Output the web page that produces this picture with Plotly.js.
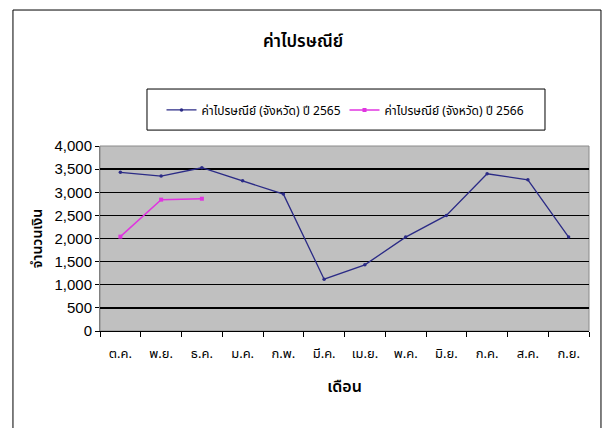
<!DOCTYPE html>
<html>
<head>
<meta charset="utf-8">
<script src="https://cdn.plot.ly/plotly-3.0.1.min.js"></script>
<style>
  html, body { margin: 0; padding: 0; background: #ffffff; }
  #chart { width: 606px; height: 428px; }
</style>
</head>
<body>
<div id="chart"></div>
<script>
const months = ["ต.ค.", "พ.ย.", "ธ.ค.", "ม.ค.", "ก.พ.", "มี.ค.", "เม.ย.", "พ.ค.", "มิ.ย.", "ก.ค.", "ส.ค.", "ก.ย."];
const months2566 = ["ต.ค.", "พ.ย.", "ธ.ค."];
const values2565 = [3430, 3350, 3530, 3250, 2960, 1120, 1430, 2030, 2500, 3400, 3270, 2030];
const values2566 = [2040, 2840, 2860];
const seriesNames = ["ค่าไปรษณีย์ (จังหวัด) ปี 2565", "ค่าไปรษณีย์ (จังหวัด) ปี 2566"];
const yTicks = [0, 500, 1000, 1500, 2000, 2500, 3000, 3500, 4000];

const thaiFont = '"Noto Sans Thai", "Noto Sans", "DejaVu Sans", sans-serif';
const numFont = '"Liberation Sans", Arial, sans-serif';

const traces = [
  {
    x: months, y: values2565, name: seriesNames[0], type: "scatter", mode: "lines+markers",
    line: { color: "#2B2B86", width: 1.3 },
    marker: { color: "#2B2B86", size: 3.5, symbol: "circle" }
  },
  {
    x: months2566, y: values2566, name: seriesNames[1], type: "scatter", mode: "lines+markers",
    line: { color: "#E035E0", width: 1.5 },
    marker: { color: "#E035E0", size: 4, symbol: "square" }
  }
];

const layout = {
  width: 606, height: 428,
  margin: { l: 100, r: 17, t: 146, b: 97 },
  paper_bgcolor: "#ffffff",
  plot_bgcolor: "#C0C0C0",
  font: { family: thaiFont, color: "#000000", size: 13 },
  title: { text: "ค่าไปรษณีย์", x: 0.5, xanchor: "center", y: 0.905, yanchor: "middle", font: { size: 17, family: thaiFont, weight: 600 } },
  showlegend: true,
  legend: {
    orientation: "h", x: 0.5, xanchor: "center", y: 1.195, yanchor: "middle",
    bgcolor: "rgba(0,0,0,0)", borderwidth: 0, font: { size: 12, family: thaiFont },
    entrywidth: 138, itemwidth: 30
  },
  xaxis: {
    type: "category", categoryorder: "array", categoryarray: months,
    range: [-0.5, 11.5],
    tickson: "boundaries", ticks: "outside", ticklen: 5, tickcolor: "#000", tickwidth: 1,
    ticklabelstandoff: 10,
    showline: true, linecolor: "#000", linewidth: 1, showgrid: false, zeroline: false,
    tickfont: { size: 13, family: thaiFont },
    title: { text: "เดือน", font: { size: 16, family: thaiFont, weight: 600 }, standoff: 18 }
  },
  yaxis: {
    range: [0, 4000], tickvals: yTicks, tickformat: ",",
    ticks: "outside", ticklen: 4, tickcolor: "#000",
    showline: true, linecolor: "#808080", linewidth: 1,
    showgrid: true, gridcolor: "#000000", gridwidth: 1.3, zeroline: false,
    tickfont: { size: 15, family: numFont },
    title: { text: "จำนวนเงิน", font: { size: 14, family: thaiFont, weight: 600 }, standoff: 8 }
  },
  shapes: [
    { type: "rect", xref: "paper", yref: "paper", x0: -0.178, x1: 1.0245, y0: -0.6, y1: 1.735,
      line: { color: "#000", width: 1 }, fillcolor: "rgba(0,0,0,0)", layer: "below" },
    { type: "rect", xref: "paper", yref: "paper", x0: 0.0961, x1: 0.910, y0: 1.086, y1: 1.308,
      line: { color: "#000", width: 1 }, fillcolor: "rgba(0,0,0,0)", layer: "above" },
    { type: "rect", xref: "paper", yref: "paper", x0: 0, x1: 1, y0: 0, y1: 1,
      line: { color: "#8a8a8a", width: 1 }, fillcolor: "rgba(0,0,0,0)", layer: "below" }
  ]
};

Plotly.newPlot("chart", traces, layout, { displayModeBar: false, staticPlot: true });
</script>
</body>
</html>
